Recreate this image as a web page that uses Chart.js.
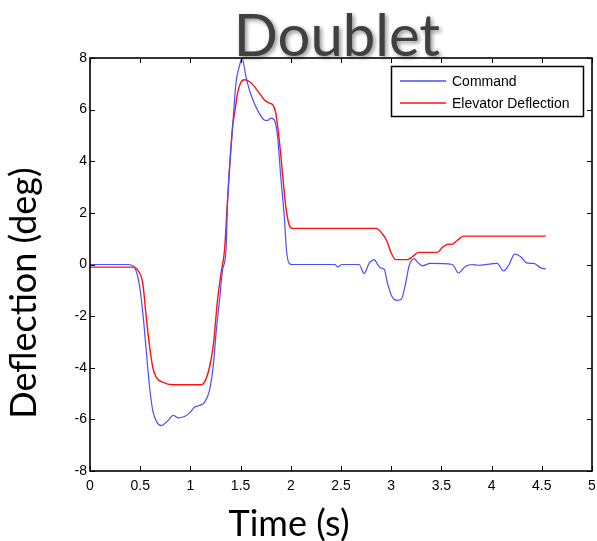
<!DOCTYPE html>
<html>
<head>
<meta charset="utf-8">
<title>Doublet</title>
<script src="https://cdn.jsdelivr.net/npm/chart.js@4.4.1/dist/chart.umd.min.js"></script>
<style>
  html, body { margin: 0; padding: 0; background: #fff; }
  #wrap { width: 597px; height: 541px; }
</style>
</head>
<body>
<div id="wrap"><canvas id="chart" width="597" height="541"></canvas></div>
<script>
// Command input (deg)
const commandTime = [0, 0.38, 0.44, 0.49, 0.53, 0.56, 0.59, 0.625, 0.665, 0.71, 0.775, 0.83, 0.874, 0.94, 0.99,
  1.04, 1.09, 1.14, 1.19, 1.23, 1.255, 1.29, 1.32, 1.355, 1.37, 1.42, 1.454, 1.487, 1.514, 1.553, 1.587, 1.636,
  1.686, 1.736, 1.77, 1.80, 1.836, 1.868, 1.90, 1.935, 1.957, 1.984, 2.02, 2.44, 2.464, 2.51, 2.68, 2.73, 2.78,
  2.83, 2.87, 2.896, 2.93, 2.96, 3.01, 3.06, 3.10, 3.14, 3.18, 3.23, 3.26, 3.31, 3.39, 3.61, 3.67, 3.74, 3.81,
  3.86, 4.055, 4.12, 4.17, 4.23, 4.29, 4.35, 4.42, 4.49, 4.54];
const commandDeg = [0, 0, -0.1, -0.74, -2.03, -3.33, -4.62, -5.66, -6.1, -6.24, -6.05, -5.84, -5.94, -5.89, -5.76,
  -5.53, -5.46, -5.34, -4.88, -3.84, -2.68, -1.39, -0.22, 0.56, 2.4, 5.3, 7.03, 7.67, 8.0, 7.29, 6.77, 6.25,
  5.86, 5.6, 5.58, 5.67, 5.6, 4.96, 3.4, 1.85, 0.56, 0.04, 0, 0, -0.09, 0, 0, -0.35, 0.04,
  0.19, -0.03, -0.13, -0.18, -0.68, -1.26, -1.39, -1.35, -0.8, -0.03, 0.23, 0.1, -0.05, 0.04, 0, -0.33, -0.07, 0,
  -0.03, 0.04, -0.25, -0.03, 0.4, 0.3, 0.06, 0.04, -0.13, -0.17];

// Measured elevator deflection (deg)
const elevatorTime = [0, 0.43, 0.476, 0.526, 0.56, 0.59, 0.625, 0.66, 0.725, 0.82, 1.105, 1.14, 1.19, 1.23, 1.27,
  1.305, 1.34, 1.37, 1.42, 1.44, 1.47, 1.50, 1.537, 1.587, 1.636, 1.686, 1.736, 1.786, 1.82, 1.85, 1.885, 1.917,
  1.95, 1.984, 2.017, 2.85, 2.91, 2.96, 2.995, 3.045, 3.16, 3.21, 3.275, 3.46, 3.51, 3.56, 3.61, 3.66, 3.72, 4.54];
const elevatorDeg = [-0.1, -0.1, -0.22, -0.74, -2.03, -3.06, -3.98, -4.37, -4.56, -4.66, -4.66, -4.56, -3.98, -3.07, -1.39,
  -0.35, 0.56, 2.5, 5.34, 5.86, 6.64, 7.03, 7.16, 7.09, 6.9, 6.64, 6.38, 6.25, 6.19, 5.86, 4.83, 3.53,
  2.24, 1.53, 1.40, 1.40, 1.2, 0.88, 0.49, 0.19, 0.19, 0.3, 0.47, 0.47, 0.66, 0.78, 0.79, 0.94, 1.10, 1.10];

const xTicks = [0, 0.5, 1, 1.5, 2, 2.5, 3, 3.5, 4, 4.5, 5];
const yTicks = [-8, -6, -4, -2, 0, 2, 4, 6, 8];

const seriesLabels = ["Command", "Elevator Deflection"];
const seriesColors = ["#4d4dff", "#ff1010"];

const toPoints = (ts, vs) => ts.map((t, i) => ({ x: t, y: vs[i] }));

// MATLAB-style box, inward ticks, titles and legend
const matlabFrame = {
  id: "matlabFrame",
  afterDraw(chart) {
    const { ctx, chartArea: a, scales } = chart;
    ctx.save();
    ctx.strokeStyle = "#000";
    ctx.lineWidth = 1;
    ctx.beginPath();
    xTicks.forEach(v => {
      const px = Math.round(scales.x.getPixelForValue(v)) + 0.5;
      ctx.moveTo(px, a.bottom); ctx.lineTo(px, a.bottom - 5);
      ctx.moveTo(px, a.top); ctx.lineTo(px, a.top + 5);
    });
    yTicks.forEach(v => {
      const py = Math.round(scales.y.getPixelForValue(v)) + 0.5;
      ctx.moveTo(a.left, py); ctx.lineTo(a.left + 5, py);
      ctx.moveTo(a.right, py); ctx.lineTo(a.right - 5, py);
    });
    ctx.stroke();
    ctx.lineWidth = 1.6;
    ctx.strokeRect(a.left, a.top, a.right - a.left, a.bottom - a.top);

    // legend
    const lx = 391.5, ly = 66.5, lw = 192, lh = 50;
    ctx.fillStyle = "#fff";
    ctx.fillRect(lx, ly, lw, lh);
    ctx.lineWidth = 1.5;
    ctx.strokeRect(lx, ly, lw, lh);
    ctx.font = "14px 'Liberation Sans'";
    ctx.textBaseline = "middle";
    ctx.textAlign = "left";
    seriesLabels.forEach((lab, i) => {
      const yy = 81 + i * 22;
      ctx.strokeStyle = seriesColors[i];
      ctx.lineWidth = 1.3;
      ctx.beginPath();
      ctx.moveTo(400, yy); ctx.lineTo(446, yy);
      ctx.stroke();
      ctx.fillStyle = "#000";
      ctx.fillText(lab, 452, yy + 1);
    });

    // axis titles
    ctx.fillStyle = "#000";
    ctx.font = "36px Lato";
    ctx.textAlign = "center";
    ctx.textBaseline = "alphabetic";
    ctx.fillText("Time (s)", 289, 536);
    ctx.save();
    ctx.translate(36, 293);
    ctx.rotate(-Math.PI / 2);
    ctx.fillText("Deflection (deg)", 0, 0);
    ctx.restore();

    // main title with soft shadow
    ctx.font = "58px Lato";
    ctx.fillStyle = "#404040";
    ctx.shadowColor = "rgba(0,0,0,0.45)";
    ctx.shadowBlur = 4;
    ctx.shadowOffsetX = 2;
    ctx.shadowOffsetY = 2;
    ctx.fillText("Doublet", 337, 56);
    ctx.restore();
  }
};

const tickFont = { family: "'Liberation Sans', Arial, sans-serif", size: 14 };

new Chart(document.getElementById("chart"), {
  type: "line",
  data: {
    datasets: [
      {
        label: seriesLabels[0],
        data: toPoints(commandTime, commandDeg),
        borderColor: seriesColors[0],
        borderWidth: 1.2,
        pointRadius: 0,
        cubicInterpolationMode: "monotone",
        tension: 0.4
      },
      {
        label: seriesLabels[1],
        data: toPoints(elevatorTime, elevatorDeg),
        borderColor: seriesColors[1],
        borderWidth: 1.4,
        pointRadius: 0,
        cubicInterpolationMode: "monotone",
        tension: 0.4
      }
    ]
  },
  options: {
    responsive: false,
    animation: false,
    devicePixelRatio: 1,
    layout: { padding: { top: 58, right: 5, bottom: 0, left: 0 } },
    plugins: {
      legend: { display: false },
      title: { display: false },
      tooltip: { enabled: false }
    },
    scales: {
      x: {
        type: "linear",
        min: 0,
        max: 5,
        afterBuildTicks: s => { s.ticks = xTicks.map(v => ({ value: v })); },
        afterFit: s => { s.height = 70; s.paddingLeft = 0; s.paddingRight = 0; },
        ticks: {
          callback: v => String(v),
          font: tickFont,
          color: "#000",
          padding: 7,
          maxRotation: 0,
          autoSkip: false
        },
        grid: { display: false, drawTicks: false },
        border: { display: false }
      },
      y: {
        min: -8,
        max: 8,
        afterBuildTicks: s => { s.ticks = yTicks.map(v => ({ value: v })); },
        afterFit: s => { s.width = 90; s.paddingTop = 0; s.paddingBottom = 0; },
        ticks: {
          callback: v => String(v),
          font: tickFont,
          color: "#000",
          padding: 3
        },
        grid: { display: false, drawTicks: false },
        border: { display: false }
      }
    }
  },
  plugins: [matlabFrame]
});
</script>
</body>
</html>
